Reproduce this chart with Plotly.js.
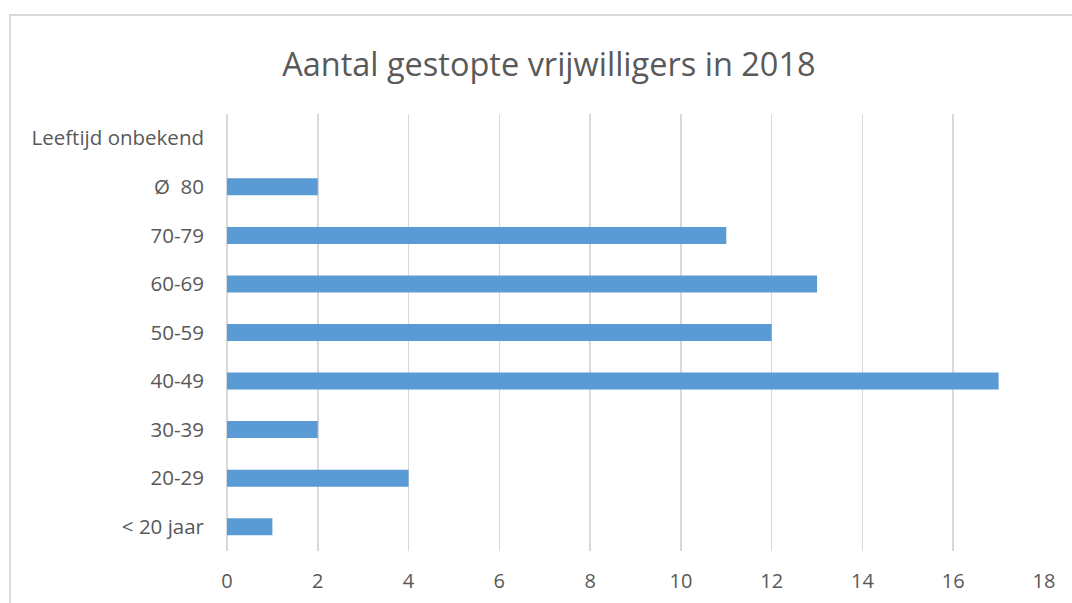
<!DOCTYPE html>
<html>
<head>
<meta charset="utf-8">
<script src="https://cdn.plot.ly/plotly-3.0.1.min.js"></script>
<style>
html,body{margin:0;padding:0;overflow:hidden;background:#fff;}
#frame{position:absolute;left:9px;top:14px;width:1200px;height:700px;border:2px solid #d9d9d9;box-sizing:border-box;pointer-events:none;z-index:5;}
#chart{position:absolute;left:0;top:0;width:1072px;height:603px;}
</style>
</head>
<body>
<div id="chart"></div>
<div id="frame"></div>
<script>
var categories = ["< 20 jaar", "20-29", "30-39", "40-49", "50-59", "60-69", "70-79", "Ø\u00a0 80", "Leeftijd onbekend"];
var values = [1, 4, 2, 17, 12, 13, 11, 2, null];
var xTicks = [0, 2, 4, 6, 8, 10, 12, 14, 16, 18];

var trace = {
  type: 'bar',
  orientation: 'h',
  y: categories,
  x: values,
  marker: {color: '#5b9bd5'},
  hoverinfo: 'x+y'
};

var layout = {
  width: 1072,
  height: 603,
  paper_bgcolor: '#ffffff',
  plot_bgcolor: '#ffffff',
  margin: {l: 227, r: 28, t: 114, b: 52},
  bargap: 0.65,
  showlegend: false,
  title: {
    text: 'Aantal gestopte vrijwilligers in 2018',
    font: {family: 'Open Sans, sans-serif', size: 32.5, color: '#595959'},
    x: 0.512, xref: 'container', xanchor: 'center',
    y: 0.893, yref: 'container', yanchor: 'middle'
  },
  xaxis: {
    range: [0, 18],
    tickvals: xTicks,
    ticktext: xTicks.map(String),
    showgrid: true,
    gridcolor: '#d9d9d9',
    gridwidth: 1.5,
    zeroline: true,
    zerolinecolor: '#d9d9d9',
    zerolinewidth: 1.5,
    showline: false,
    ticks: '',
    ticklabelstandoff: 16,
    tickfont: {family: 'Open Sans, sans-serif', size: 20, color: '#595959'},
    fixedrange: true
  },
  yaxis: {
    type: 'category',
    categoryorder: 'array',
    categoryarray: categories,
    showgrid: false,
    zeroline: false,
    showline: false,
    ticks: '',
    ticklabelstandoff: 22,
    tickfont: {family: 'Open Sans, sans-serif', size: 20.5, color: '#595959'},
    fixedrange: true
  }
};

Plotly.newPlot('chart', [trace], layout, {displayModeBar: false, staticPlot: true});
</script>
</body>
</html>
